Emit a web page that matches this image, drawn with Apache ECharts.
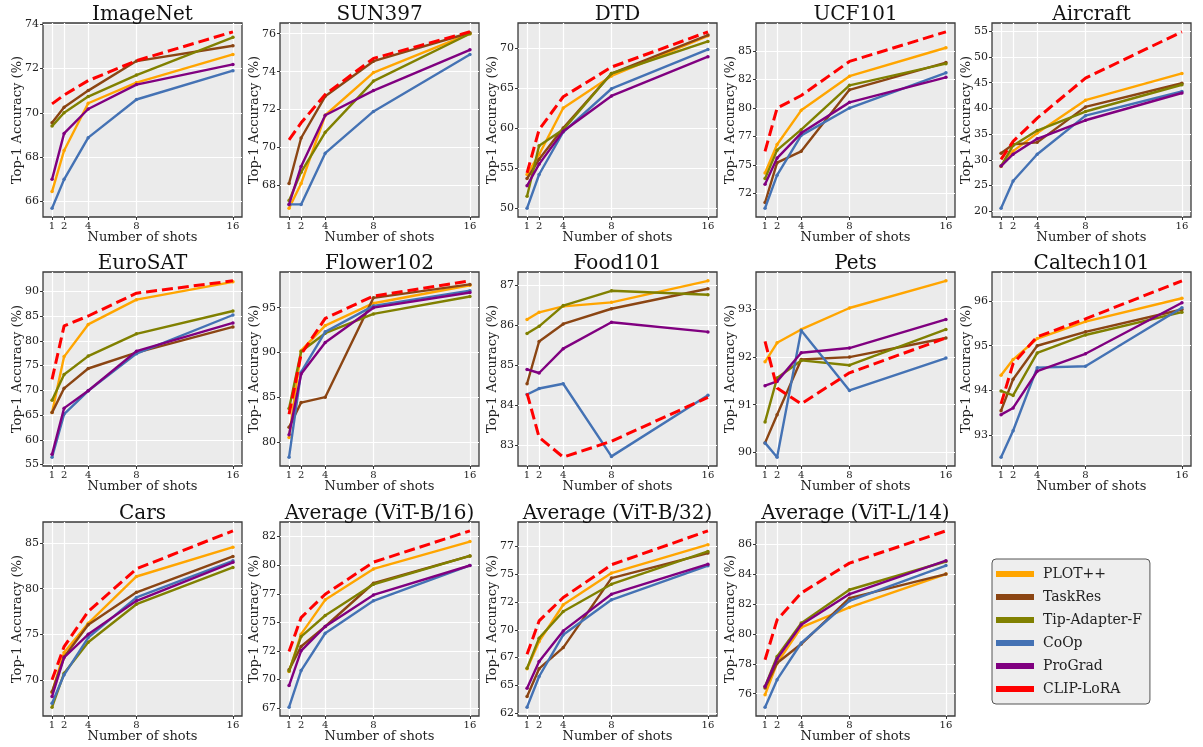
<!DOCTYPE html>
<html><head><meta charset="utf-8">
<script src="https://cdn.jsdelivr.net/npm/echarts@6/dist/echarts.min.js"></script>
<style>html,body{margin:0;padding:0;background:#fff}#c{width:1203px;height:747px}</style>
</head><body><div id="c"></div><script>
const shots = [1, 2, 4, 8, 16];
const methods = ['PLOT++', 'TaskRes', 'Tip-Adapter-F', 'CoOp', 'ProGrad', 'CLIP-LoRA'];
const colors = ['#FFA500', '#8B4513', '#808000', '#4472B4', '#800080', '#FF0000'];
const titles = ['ImageNet', 'SUN397', 'DTD', 'UCF101', 'Aircraft', 'EuroSAT', 'Flower102', 'Food101', 'Pets', 'Caltech101', 'Cars', 'Average (ViT-B/16)', 'Average (ViT-B/32)', 'Average (ViT-L/14)'];

// rows: PLOT++, TaskRes, Tip-Adapter-F, CoOp, ProGrad, CLIP-LoRA
const ImageNet = [
  [66.45, 68.3, 70.43, 71.36, 72.63],
  [69.55, 70.25, 71.0, 72.33, 73.02],
  [69.4, 70.0, 70.73, 71.7, 73.4],
  [65.7, 67.0, 68.88, 70.6, 71.9],
  [67.0, 69.07, 70.17, 71.27, 72.18],
  [70.4, 70.8, 71.45, 72.35, 73.65]
];
const SUN397 = [
  [66.8, 68.1, 71.7, 73.95, 76.0],
  [68.1, 70.5, 72.7, 74.55, 76.05],
  [67.2, 68.7, 70.8, 73.5, 76.0],
  [67.0, 67.0, 69.7, 71.9, 74.9],
  [67.0, 69.0, 71.7, 73.0, 75.15],
  [70.4, 71.3, 72.8, 74.7, 76.1]
];
const DTD = [
  [54.2, 56.7, 62.5, 66.5, 71.5],
  [53.7, 56.1, 60.0, 66.8, 71.6],
  [51.5, 57.8, 59.8, 66.8, 70.8],
  [50.0, 54.2, 59.5, 64.9, 69.8],
  [52.8, 55.5, 59.6, 64.0, 68.9],
  [54.4, 59.8, 63.9, 67.6, 72.0]
];
const UCF101 = [
  [74.3, 76.8, 79.8, 82.8, 85.3],
  [71.7, 75.2, 76.2, 81.6, 84.0],
  [73.8, 76.3, 78.1, 82.0, 83.9],
  [71.2, 74.1, 77.6, 80.0, 83.1],
  [73.3, 75.6, 77.8, 80.5, 82.7],
  [76.2, 80.0, 81.1, 84.1, 86.7]
];
const Aircraft = [
  [28.7, 31.7, 35.2, 41.6, 46.8],
  [31.3, 33.0, 33.4, 40.3, 44.9],
  [28.8, 32.8, 35.7, 39.4, 44.6],
  [20.6, 25.9, 31.1, 38.6, 43.3],
  [28.8, 31.1, 34.1, 37.7, 43.0],
  [30.1, 33.6, 38.1, 45.9, 54.9]
];
const EuroSAT = [
  [65.5, 76.8, 83.3, 88.3, 91.9],
  [65.5, 70.4, 74.4, 77.6, 82.8],
  [68.0, 73.2, 76.9, 81.4, 86.0],
  [56.5, 65.2, 69.9, 77.4, 85.2],
  [57.1, 66.4, 69.9, 77.9, 83.6],
  [72.2, 83.0, 85.0, 89.6, 92.1]
];
const Flower102 = [
  [80.5, 90.2, 93.0, 95.5, 97.5],
  [81.65, 84.4, 85.0, 96.1, 97.6],
  [83.75, 90.1, 92.15, 94.3, 96.25],
  [78.3, 87.8, 92.3, 95.2, 96.9],
  [80.8, 87.6, 91.1, 95.0, 96.7],
  [83.1, 89.8, 93.8, 96.3, 98.0]
];
const Food101 = [
  [86.15, 86.33, 86.48, 86.58, 87.12],
  [84.54, 85.6, 86.04, 86.42, 86.92],
  [85.8, 85.98, 86.5, 86.87, 86.77],
  [84.27, 84.42, 84.54, 82.72, 84.25],
  [84.9, 84.81, 85.42, 86.08, 85.84],
  [84.3, 83.2, 82.7, 83.1, 84.2]
];
const Pets = [
  [91.9, 92.3, 92.58, 93.03, 93.6],
  [90.2, 90.79, 91.95, 92.0, 92.4],
  [90.64, 91.56, 91.93, 91.83, 92.58],
  [90.2, 89.9, 92.56, 91.3, 91.98],
  [91.4, 91.49, 92.09, 92.19, 92.79],
  [92.33, 91.35, 91.02, 91.67, 92.4]
];
const Caltech101 = [
  [94.34, 94.69, 95.16, 95.54, 96.06],
  [93.55, 94.25, 95.0, 95.31, 95.81],
  [93.99, 93.89, 94.84, 95.24, 95.75],
  [92.51, 93.1, 94.51, 94.54, 95.85],
  [93.46, 93.61, 94.43, 94.82, 95.96],
  [93.7, 94.6, 95.2, 95.6, 96.45]
];
const Cars = [
  [68.6, 73.0, 76.2, 81.34, 84.56],
  [68.7, 72.5, 76.04, 79.6, 83.54],
  [67.0, 70.73, 74.13, 78.3, 82.33],
  [67.44, 70.55, 74.64, 79.04, 83.06],
  [68.17, 72.45, 75.0, 78.67, 82.9],
  [70.0, 73.65, 77.5, 82.18, 86.35]
];
const AvgB16 = [
  [70.7, 73.97, 76.97, 79.67, 82.06],
  [70.85, 72.89, 74.64, 78.42, 80.81],
  [70.76, 73.76, 75.6, 78.33, 80.81],
  [67.59, 70.79, 74.05, 76.88, 79.97],
  [69.48, 72.51, 74.64, 77.4, 79.97],
  [72.45, 75.42, 77.46, 80.26, 83.0]
];
const AvgB32 = [
  [66.5, 68.95, 72.25, 75.1, 77.65],
  [64.0, 66.5, 68.4, 74.65, 76.9],
  [66.55, 69.25, 71.65, 74.1, 77.05],
  [63.04, 65.8, 69.55, 72.7, 75.76],
  [64.75, 67.15, 69.9, 73.2, 75.9],
  [67.8, 70.8, 72.9, 75.85, 78.9]
];
const AvgL14 = [
  [75.93, 78.05, 80.43, 81.77, 84.0],
  [76.38, 78.05, 79.32, 82.39, 84.0],
  [76.49, 78.49, 80.72, 82.95, 84.84],
  [75.1, 76.94, 79.39, 82.21, 84.57],
  [76.49, 78.34, 80.61, 82.66, 84.89],
  [78.27, 80.94, 82.73, 84.73, 86.89]
];
const datasets = [ImageNet, SUN397, DTD, UCF101, Aircraft, EuroSAT, Flower102, Food101, Pets, Caltech101, Cars, AvgB16, AvgB32, AvgL14];

const yTicks = [
  [66, 68, 70, 72, 74],
  [68, 70, 72, 74, 76],
  [50, 55, 60, 65, 70],
  [72.5, 75, 77.5, 80, 82.5, 85],
  [20, 25, 30, 35, 40, 45, 50, 55],
  [55, 60, 65, 70, 75, 80, 85, 90],
  [80, 85, 90, 95],
  [83, 84, 85, 86, 87],
  [90, 91, 92, 93],
  [93, 94, 95, 96],
  [70, 75, 80, 85],
  [67.5, 70, 72.5, 75, 77.5, 80, 82.5],
  [62.5, 65, 67.5, 70, 72.5, 75, 77.5],
  [76, 78, 80, 82, 84, 86]
];

const FONT = 'DejaVu Serif';
const colLeft = [43, 280, 518, 756, 992];
const rowTop = [23, 272, 522];
const GW = 199, GH = 194;

const grids = [], xAxes = [], yAxes = [], series = [], titleArr = [];
const pad = v => 0.05 * (v.max - v.min);

datasets.forEach((d, i) => {
  const r = Math.floor(i / 5), c = i % 5;
  grids.push({
    left: colLeft[c], top: rowTop[r], width: GW, height: GH,
    show: true, backgroundColor: '#EBEBEB', borderColor: '#3a3a3a', borderWidth: 1.3
  });
  titleArr.push({
    text: titles[i], left: colLeft[c] + GW / 2, top: rowTop[r] - 18, textAlign: 'center', padding: 0,
    textStyle: { fontFamily: FONT, fontSize: 20, fontWeight: 'normal', color: '#111' }
  });
  xAxes.push({
    type: 'value', gridIndex: i,
    min: v => v.min - pad(v), max: v => v.max + pad(v),
    name: 'Number of shots', nameLocation: 'middle', nameGap: 14, nameMoveOverlap: false,
    nameTextStyle: { fontFamily: FONT, fontSize: 13, color: '#222' },
    axisLine: { show: false },
    axisTick: { show: true, length: 3, customValues: shots, lineStyle: { color: '#333' } },
    axisLabel: { customValues: shots, fontFamily: FONT, fontSize: 10, color: '#222', margin: 4 },
    splitLine: { show: true, lineStyle: { color: '#fff', width: 1.2 } }
  });
  yAxes.push({
    type: 'value', gridIndex: i,
    min: v => v.min - pad(v), max: v => v.max + pad(v),
    name: 'Top-1 Accuracy (%)', nameLocation: 'middle', nameGap: 19, nameRotate: 90, nameMoveOverlap: false,
    nameTextStyle: { fontFamily: FONT, fontSize: 13, color: '#222' },
    axisLine: { show: false },
    axisTick: { show: true, length: 3, customValues: yTicks[i], lineStyle: { color: '#333' } },
    axisLabel: {
      customValues: yTicks[i], fontFamily: FONT, fontSize: 11, color: '#222', margin: 4,
      formatter: v => String(Math.trunc(v))
    },
    splitLine: { show: true, lineStyle: { color: '#fff', width: 1.2 } }
  });
  d.forEach((vals, m) => {
    const dashed = m === 5;
    series.push({
      type: 'line', name: methods[m], xAxisIndex: i, yAxisIndex: i,
      data: shots.map((s, k) => [s, vals[k]]),
      symbol: dashed ? 'none' : 'circle', symbolSize: 3.5, showSymbol: !dashed,
      lineStyle: { color: colors[m], width: dashed ? 3 : 2.4, type: dashed ? [11, 5] : 'solid' },
      itemStyle: { color: colors[m] },
      z: 2 + m, silent: true
    });
  });
});

const chart = echarts.init(document.getElementById('c'), null, { renderer: 'canvas' });
chart.setOption({
  animation: false,
  backgroundColor: '#fff',
  title: titleArr,
  grid: grids, xAxis: xAxes, yAxis: yAxes, series: series,
  legend: {
    data: methods, orient: 'vertical', left: 992, top: 559,
    backgroundColor: '#EEEEEE', borderColor: '#555', borderWidth: 1, borderRadius: 4,
    padding: [8, 8, 8, 4], itemGap: 9, itemWidth: 38, itemHeight: 6, icon: 'rect',
    selectedMode: false,
    textStyle: { fontFamily: FONT, fontSize: 14, color: '#222', lineHeight: 14, padding: [0, 0, 0, 4] }
  }
});
</script></body></html>
